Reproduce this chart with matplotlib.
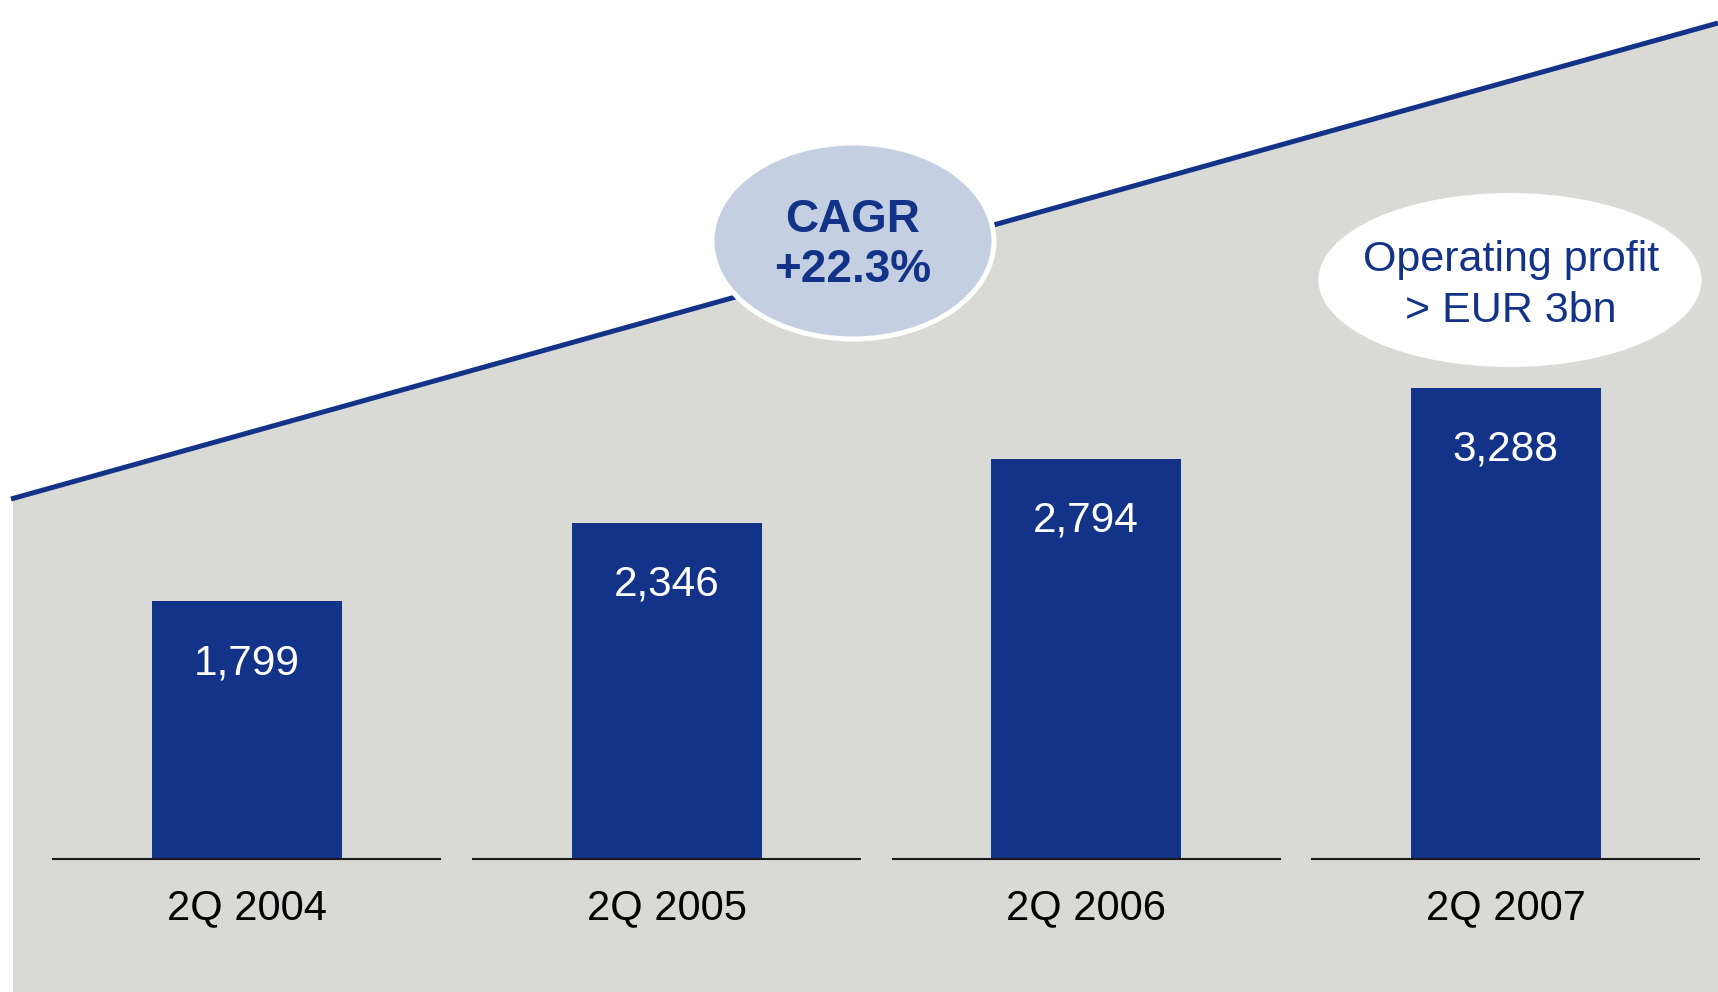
import matplotlib.pyplot as plt
from matplotlib.patches import Ellipse, Polygon


QUARTERS = ["2Q 2004", "2Q 2005", "2Q 2006", "2Q 2007"]
OPERATING_PROFIT = [1799, 2346, 2794, 3288]
VALUE_LABELS = ["1,799", "2,346", "2,794", "3,288"]

CAGR_TEXT = ["CAGR", "+22.3%"]
CALLOUT_TEXT = ["Operating profit", "> EUR 3bn"]

W, H = 1718, 992

NAVY = "#133388"
GREY_BG = "#d9d9d5"
CAGR_FILL = "#c5cfe2"

plt.rcParams["font.family"] = ["Liberation Sans", "DejaVu Sans"]


def fig_xy(x, y):
    # pixel position (top-left origin) -> figure fraction
    return x / W, 1 - y / H


def main() -> None:
    fig = plt.figure(figsize=(W / 100, H / 100), dpi=100)
    fig.patch.set_facecolor("white")

    ax = fig.add_axes([0, 0, 1, 1])
    ax.set_axis_off()
    ax.set_xlim(-0.5883, 3.5055)
    ax.set_ylim(-928, 5994)

    # grey wedge under the trend line
    line_left = (11, 499)
    line_right = (1718, 23)
    slope = (line_right[1] - line_left[1]) / (line_right[0] - line_left[0])
    grey_top_left = line_left[1] + slope * (13 - line_left[0])
    wedge = Polygon(
        [fig_xy(13, grey_top_left), fig_xy(W, line_right[1]),
         fig_xy(W, H), fig_xy(13, H)],
        closed=True, facecolor=GREY_BG, edgecolor="none",
        transform=fig.transFigure, zorder=0,
    )
    ax.add_patch(wedge)

    x0, y0 = fig_xy(*line_left)
    x1, y1 = fig_xy(*line_right)
    ax.plot([x0, x1], [y0, y1], color=NAVY, linewidth=3.6,
            solid_capstyle="butt", transform=fig.transFigure, zorder=1)

    positions = list(range(len(QUARTERS)))

    ax.bar(positions, OPERATING_PROFIT, width=0.4528, color=NAVY, zorder=2)
    ax.hlines([0] * len(positions),
              [p - 0.4635 for p in positions],
              [p + 0.4635 for p in positions],
              color="#1a1a1a", linewidth=1.5, zorder=3)

    for p, value, label in zip(positions, OPERATING_PROFIT, VALUE_LABELS):
        ax.annotate(label, (p, value), xytext=(0, -73),
                    textcoords="offset pixels", ha="center", va="baseline",
                    color="white", fontsize=30.5, zorder=4)

    for p, quarter in zip(positions, QUARTERS):
        ax.annotate(quarter, (p, 0), xytext=(0, -60),
                    textcoords="offset pixels", ha="center", va="baseline",
                    color="black", fontsize=30, zorder=4)

    # CAGR bubble sitting on the trend line
    cagr = Ellipse(fig_xy(853, 241), 282 / W, 196 / H,
                   facecolor=CAGR_FILL, edgecolor="white", linewidth=3.6,
                   transform=fig.transFigure, zorder=5)
    ax.add_patch(cagr)
    for text, base in zip(CAGR_TEXT, [232, 282]):
        fx, fy = fig_xy(853, base)
        fig.text(fx, fy, text, ha="center", va="baseline", color=NAVY,
                 fontsize=33, fontweight="bold", zorder=6)

    # callout above the last bar
    callout = Ellipse(fig_xy(1510, 280), 383 / W, 174 / H,
                      facecolor="white", edgecolor="none",
                      transform=fig.transFigure, zorder=5)
    ax.add_patch(callout)
    for text, base in zip(CALLOUT_TEXT, [271, 322]):
        fx, fy = fig_xy(1511, base)
        fig.text(fx, fy, text, ha="center", va="baseline", color=NAVY,
                 fontsize=31, zorder=6)

    fig.savefig("out.png", dpi=100)
    plt.close(fig)


if __name__ == "__main__":
    main()
